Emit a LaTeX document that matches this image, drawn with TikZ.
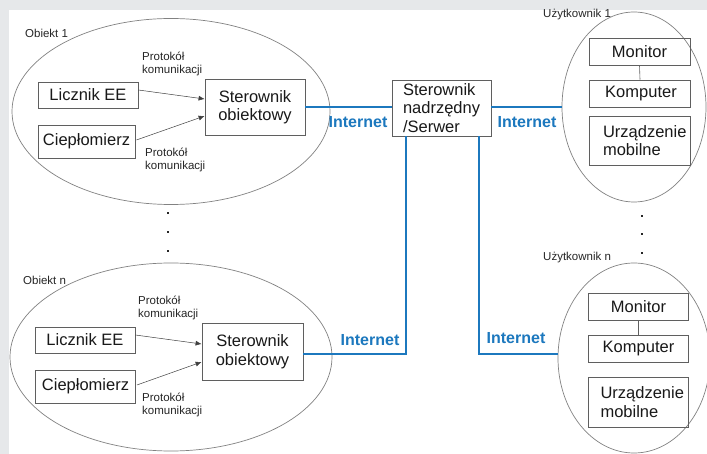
\documentclass[tikz,border=0pt]{standalone}
\usepackage{fontspec}
\setmainfont{Liberation Sans}
\usetikzlibrary{arrows.meta,calc,shapes.geometric}
\definecolor{netblue}{RGB}{28,120,190}
\definecolor{bggray}{RGB}{230,232,234}
\definecolor{boxgray}{RGB}{95,95,95}
\definecolor{ellgray}{RGB}{130,130,130}
\begin{document}
\begin{tikzpicture}[x=1pt,y=-1pt,
  box/.style={draw=boxgray,line width=0.8pt,inner sep=0pt,align=center,text=black!90,
    font=\fontsize{16.5}{18.5}\selectfont},
  mobbox/.style={box,text width=101pt,inner xsep=0pt,align=flush left},
  small/.style={font=\fontsize{11.5}{13}\selectfont,align=left,inner sep=0pt,anchor=west,text=black!85},
  net/.style={draw=netblue,line width=2pt},
  netlabel/.style={font=\bfseries\fontsize{16}{18}\selectfont,text=netblue,inner sep=0pt},
  ell/.style={ellipse,draw=ellgray,line width=0.7pt,inner sep=0pt},
  arr/.style={-{Latex[length=6pt,width=5pt]},draw=black!75,line width=0.5pt},
  dotmark/.style={fill=black!85,inner sep=0pt,minimum size=2pt},
  link/.style={draw=boxgray,line width=0.6pt}]
\useasboundingbox (0,0) rectangle (707,454);
\fill[bggray] (0,0) rectangle (707,454);
\fill[white] (9,10) rectangle (707,454);

% ellipses
\node[ell,minimum width=318pt,minimum height=186pt] (O1) at (171,111.5) {};
\node[ell,minimum width=322pt,minimum height=188pt] (On) at (171,357) {};
\node[ell,minimum width=144pt,minimum height=190pt] (U1) at (634,107) {};
\node[ell,minimum width=152pt,minimum height=190pt] (Un) at (634,358) {};

% labels of groups
\node[small] (tO1) at (25,33) {Obiekt 1};
\node[small] (tOn) at (23,280) {Obiekt n};
\node[small] (tU1) at (543,15) {Użytkownik 1};
\node[small] (tUn) at (543,258) {Użytkownik n};

% object 1
\node[box,minimum width=100pt,minimum height=26pt] (L1) at (88,95) {Licznik EE};
\node[box,minimum width=97pt,minimum height=33pt] (C1) at (86.5,141.5) {Ciepłomierz};
\node[box,minimum width=100pt,minimum height=56pt] (S1) at (255,107) {Sterownik\\obiektowy};
\node[small] (p1a) at (142,63.5) {Protokół\\komunikacji};
\node[small] (p1b) at (145,160) {Protokół\\komunikacji};
\draw[arr] ($(L1.east)+(0,-5)$) -- ($(S1.west)+(0,-8)$);
\draw[arr] ($(C1.east)+(1,-1.5)$) -- ($(S1.west)+(0,9)$);

% object n
\node[box,minimum width=100pt,minimum height=26pt] (Ln) at (85,340) {Licznik EE};
\node[box,minimum width=100pt,minimum height=33pt] (Cn) at (85.5,386.5) {Ciepłomierz};
\node[box,minimum width=101pt,minimum height=57pt] (Sn) at (252.5,351.5) {Sterownik\\obiektowy};
\node[small] (pna) at (138,308) {Protokół\\komunikacji};
\node[small] (pnb) at (142,405) {Protokół\\komunikacji};
\draw[arr] ($(Ln.east)+(0,-5)$) -- ($(Sn.west)+(0,-7.5)$);
\draw[arr] ($(Cn.east)+(1,-1.5)$) -- ($(Sn.west)+(0,10.5)$);

% server
\node[box,minimum width=99pt,minimum height=56pt,text width=77pt,inner xsep=11pt,align=left] (SV) at (441.5,108) {Sterownik\\nadrzędny\\/Serwer};

% user 1
\node[box,minimum width=101pt,minimum height=27pt] (M1) at (639.5,51.5) {Monitor};
\node[box,minimum width=101pt,minimum height=27pt] (K1) at (640,93.5) {\hspace*{2pt}Komputer};
\node[mobbox,minimum height=49pt] (D1) at (639.5,140.5) {\hspace*{14pt}Urządzenie\\\hspace*{14pt}mobilne};
\draw[link] (M1.south) -- (K1.north);

% user n
\node[box,minimum width=100pt,minimum height=27pt] (Mn) at (638.5,306.5) {Monitor};
\node[box,minimum width=100pt,minimum height=27pt] (Kn) at (638.5,348.5) {Komputer};
\node[mobbox,text width=100pt,minimum height=50pt] (Dn) at (638.5,402) {\hspace*{12pt}Urządzenie\\\hspace*{12pt}mobilne};
\draw[link] (Mn.south) -- (Kn.north);

% network lines
\draw[net] (S1.east) -- (S1.east -| SV.west);
\draw[net] (SV.east |- U1.west) -- (U1.west);
\coordinate (vl) at ($(SV.south west)+(14,0)$);
\coordinate (vr) at ($(SV.south east)+(-12,0)$);
\coordinate (jn) at ($(Sn.east)+(0,2.5)$);
\draw[net] (vl) |- (jn);
\draw[net] (vr) |- (jn -| Un.west);

\node[netlabel] (i1) at (358,122) {Internet};
\node[netlabel] (i2) at (527,122) {Internet};
\node[netlabel] (i3) at (370,340) {Internet};
\node[netlabel] (i4) at (516,338) {Internet};

% dots
\node[dotmark] (d1) at (168,213) {};
\node[dotmark] (d2) at (168,232) {};
\node[dotmark] (d3) at (168,251) {};
\node[dotmark] (d4) at (642,216) {};
\node[dotmark] (d5) at (642,234) {};
\node[dotmark] (d6) at (642,253) {};
\end{tikzpicture}
\end{document}
